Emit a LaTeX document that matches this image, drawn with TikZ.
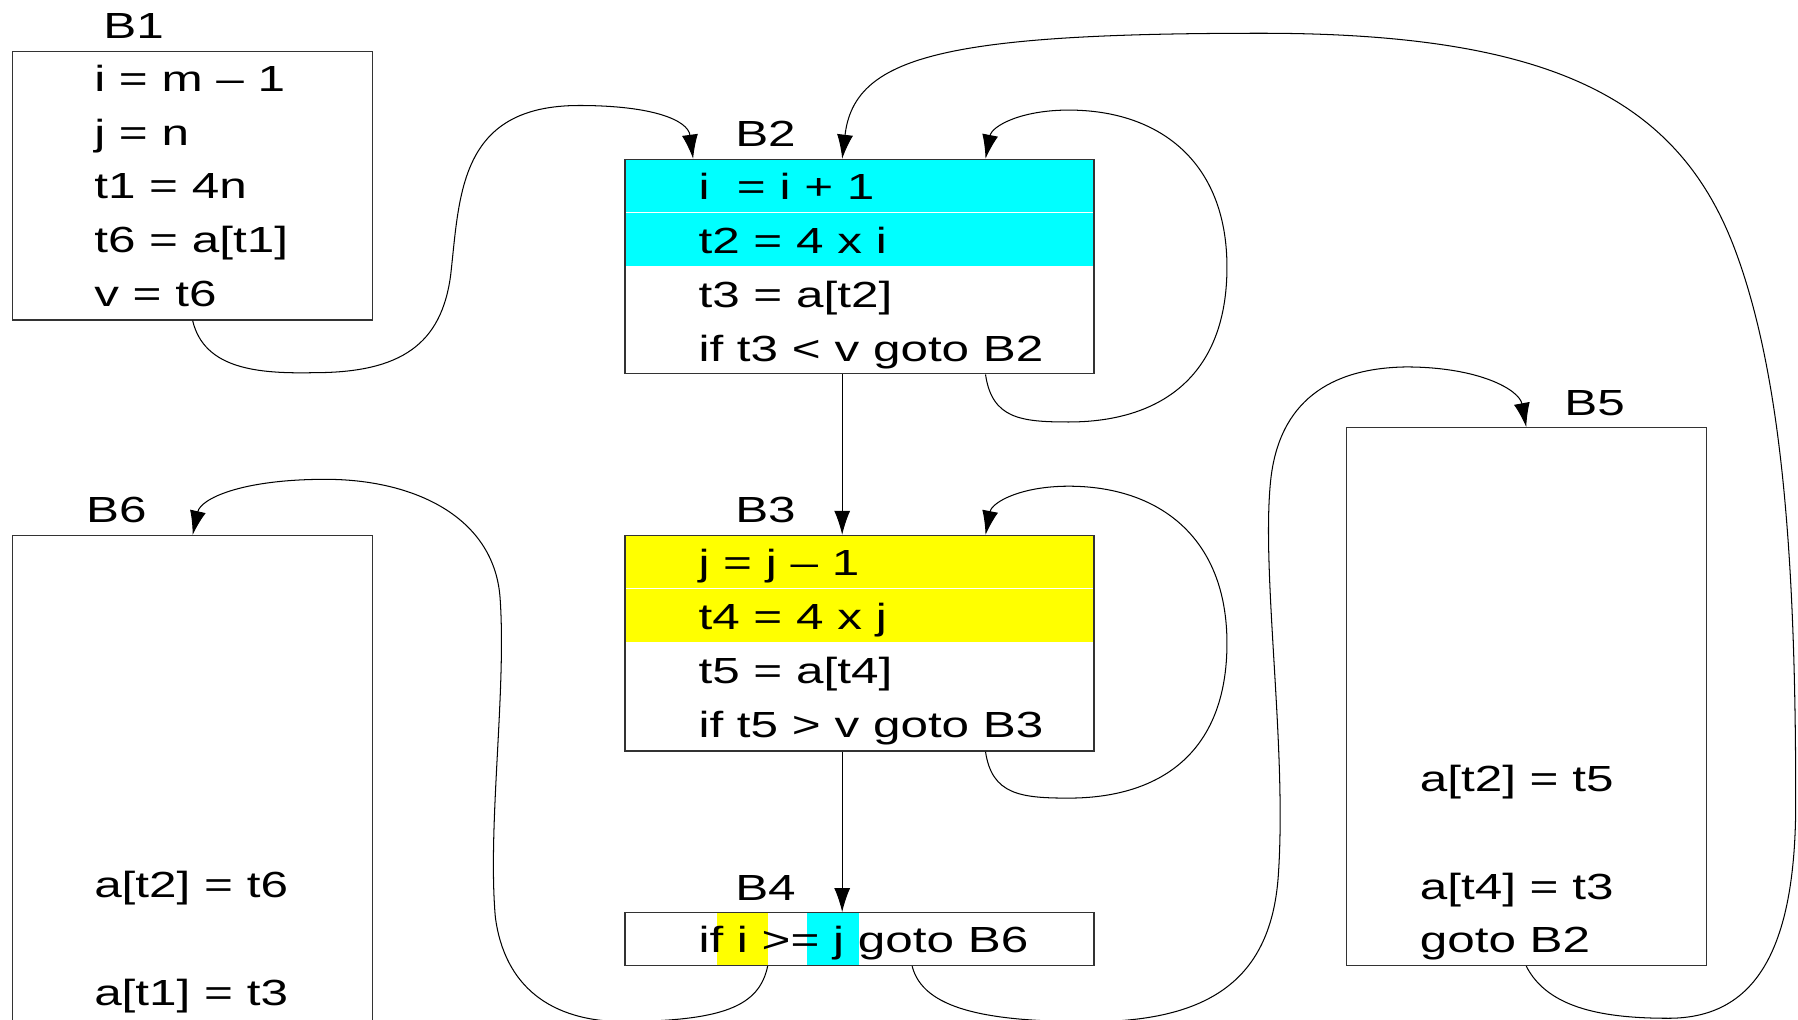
\documentclass[tikz,border=0pt]{standalone}
\usepackage{fontspec}
\setmainfont{Liberation Sans}[FakeStretch=1.36]
\usetikzlibrary{arrows.meta}
\definecolor{rowcyan}{RGB}{0,255,255}
\definecolor{rowyellow}{RGB}{255,255,0}

\begin{document}
\begin{tikzpicture}[x=1pt,y=-1pt,font=\fontsize{31.7}{38}\selectfont,
        link/.style={draw,line width=0.9pt,-{Latex[length=21pt,width=14pt]}}]
    \useasboundingbox (0,0) rectangle (1568,889);
    \clip (0,0) rectangle (1568,889);

    % coloured rows
    \begin{scope}[every node/.style={inner sep=0,outer sep=0,minimum width=409pt,minimum height=46pt}]
        \node[fill=rowcyan] (c1) at (749.5,162) {};
        \node[fill=rowcyan] (c2) at (749.5,209) {};
        \node[fill=rowyellow] (y1) at (749.5,490) {};
        \node[fill=rowyellow] (y2) at (749.5,537) {};
    \end{scope}
    \begin{scope}[every node/.style={inner sep=0,outer sep=0,minimum width=45pt,minimum height=46pt}]
        \node[fill=rowyellow] (yi) at (647.5,819) {};
        \node[fill=rowcyan] (cj) at (726.5,819) {};
    \end{scope}

    % blocks
    \begin{scope}[every node/.style={draw=black!80,line width=1.1pt,inner sep=0}]
        \node[minimum width=314pt,minimum height=234pt] (B1) at (168,162) {};
        \node[minimum width=409pt,minimum height=187pt] (B2) at (749.5,232.5) {};
        \node[minimum width=409pt,minimum height=188pt] (B3) at (749.5,561) {};
        \node[minimum width=409pt,minimum height=46pt] (B4) at (749.5,819) {};
        \node[minimum width=314pt,minimum height=469pt] (B5) at (1331,607.5) {};
        \node[minimum width=314pt,minimum height=533pt] (B6) at (168,733.5) {};
    \end{scope}

    % block names and statements
    \begin{scope}[every node/.style={anchor=base west,inner sep=0}]
        \node (n1) at (90,34) {B1};
        \node (n2) at (641,128) {B2};
        \node (n3) at (641,456) {B3};
        \node (n4) at (641,785) {B4};
        \node (n5) at (1364,362) {B5};
        \node (n6) at (75,456) {B6};

        \node (s11) at (82,80) {i = m -- 1};
        \node (s12) at (82,127) {j = n};
        \node (s13) at (82,173) {t1 = 4n};
        \node (s14) at (82,220) {t6 = a[t1]};
        \node (s15) at (82,267) {v = t6};

        \node (s21) at (609,174) {i\ \ = i + 1};
        \node (s22) at (609,221) {t2 = 4 x i};
        \node (s23) at (609,268) {t3 = a[t2]};
        \node (s24) at (609,315) {if t3 < v goto B2};

        \node (s31) at (609,502) {j = j -- 1};
        \node (s32) at (609,549) {t4 = 4 x j};
        \node (s33) at (609,596) {t5 = a[t4]};
        \node (s34) at (609,643) {if t5 > v goto B3};

        \node (s41) at (609,831) {if i >= j goto B6};

        \node (s51) at (1238,690) {a[t2] = t5};
        \node (s52) at (1238,784) {a[t4] = t3};
        \node (s53) at (1238,831) {goto B2};

        \node (s61) at (82,783) {a[t2] = t6};
        \node (s62) at (82,877) {a[t1] = t3};
    \end{scope}

    % flow edges
    \begin{scope}[every edge/.style={link}]
        \path
            ([xshift=190pt]B2.south west) edge ([xshift=190pt]B3.north west)
            ([xshift=190pt]B3.south west) edge ([xshift=190pt]B4.north west);
    \end{scope}

    \draw[link] (B1.south) .. controls (178,322) and (225,326) .. (274,325)
        .. controls (350,325) and (385,300) .. (393,240)
        .. controls (401,170) and (400,92) .. (505,92)
        .. controls (570,92) and (600,105) .. ([xshift=60pt]B2.north west);
    \draw[link] ([xshift=315pt]B2.south west) .. controls (865,365) and (890,368) .. (932,368)
        .. controls (1010,368) and (1070,330) .. (1070,233)
        .. controls (1070,140) and (1010,96) .. (932,96)
        .. controls (890,96) and (865,110) .. ([xshift=315pt]B2.north west);
    \draw[link] ([xshift=315pt]B3.south west) .. controls (865,693) and (890,696) .. (932,696)
        .. controls (1010,696) and (1070,658) .. (1070,561)
        .. controls (1070,468) and (1010,424) .. (932,424)
        .. controls (890,424) and (865,438) .. ([xshift=315pt]B3.north west);
    \draw[link] ([xshift=125pt]B4.south west) .. controls (662,878) and (630,890) .. (545,891)
        .. controls (480,891) and (440,860) .. (432,800)
        .. controls (425,720) and (442,600) .. (436,520)
        .. controls (430,450) and (360,418) .. (284,418)
        .. controls (210,418) and (175,435) .. (B6.north);
    \draw[link] ([xshift=251pt]B4.south west) .. controls (805,880) and (860,891) .. (950,891)
        .. controls (1060,891) and (1110,850) .. (1115,760)
        .. controls (1122,650) and (1100,500) .. (1108,420)
        .. controls (1115,350) and (1160,321) .. (1226,320)
        .. controls (1290,320) and (1325,340) .. (B5.north);
    \draw[link] (B5.south) .. controls (1350,880) and (1400,888) .. (1455,888)
        .. controls (1530,888) and (1566,830) .. (1566,700)
        .. controls (1566,500) and (1556,330) .. (1512,215)
        .. controls (1462,85) and (1350,29) .. (1100,29)
        .. controls (820,29) and (745,50) .. ([xshift=190pt]B2.north west);
\end{tikzpicture}
\end{document}
